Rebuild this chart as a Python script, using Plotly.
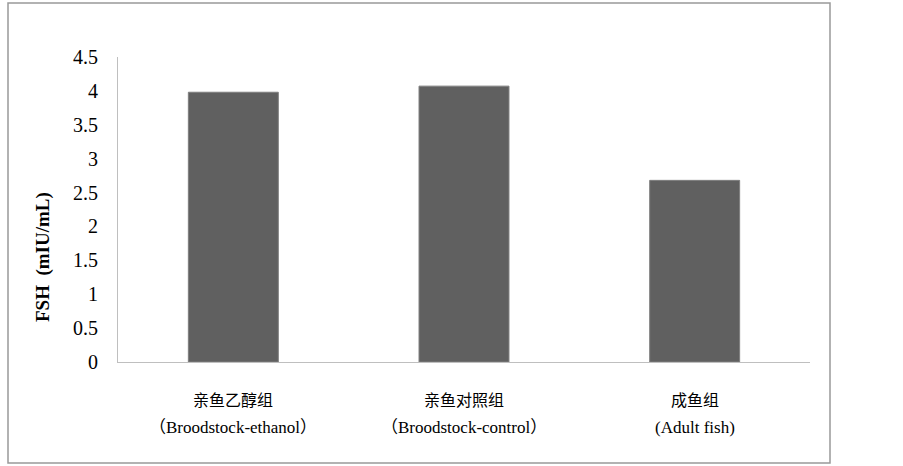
import plotly.graph_objects as go

categories = ["亲鱼乙醇组", "亲鱼对照组", "成鱼组"]
english_labels = ["（Broodstock-ethanol）", "（Broodstock-control）", "(Adult fish)"]
fsh_values = [3.98, 4.07, 2.68]
y_ticks = [0, 0.5, 1, 1.5, 2, 2.5, 3, 3.5, 4, 4.5]
y_ticktext = ["0", "0.5", "1", "1.5", "2", "2.5", "3", "3.5", "4", "4.5"]

W, H = 903, 466
L, R, T, B = 118, 810, 57, 362
pw, ph = R - L, B - T

def px(x):
    return (x - L) / pw

def py(y):
    return (B - y) / ph

FONT = "Liberation Serif, Times New Roman, Noto Sans CJK SC, serif"

fig = go.Figure(go.Bar(
    x=categories, y=fsh_values,
    marker=dict(color="#606060", line=dict(color="#7f7f7f", width=1)),
    width=0.39,
))

annotations = []
for c, e in zip(categories, english_labels):
    annotations.append(dict(x=c, xref="x", y=0, yref="paper", text=c, showarrow=False,
                            yanchor="middle", yshift=-38,
                            font=dict(family=FONT, size=16, color="#000")))
    annotations.append(dict(x=c, xref="x", y=0, yref="paper", text=e, showarrow=False,
                            yanchor="middle", yshift=-65,
                            font=dict(family=FONT, size=17, color="#000")))
annotations.append(dict(x=px(43), xref="paper", y=py(257), yref="paper",
                        text="<b>FSH  (mIU/mL)</b>", textangle=-90, showarrow=False,
                        xanchor="center", yanchor="middle",
                        font=dict(family=FONT, size=19, color="#000")))

fig.update_layout(
    width=W, height=H,
    margin=dict(l=L, r=W - R, t=T, b=H - B, pad=0),
    paper_bgcolor="white", plot_bgcolor="white",
    showlegend=False,
    annotations=annotations,
    xaxis=dict(showticklabels=False, showline=True, linecolor="#bfbfbf", linewidth=1,
               ticks="", showgrid=False, zeroline=False),
    yaxis=dict(range=[0, 4.5], tickvals=y_ticks, ticktext=y_ticktext,
               showline=True, linecolor="#bfbfbf", linewidth=1, ticks="",
               ticklabelstandoff=15, showgrid=False, zeroline=False,
               tickfont=dict(family=FONT, size=20, color="#000")),
    shapes=[dict(type="rect", xref="paper", yref="paper",
                 x0=px(8), x1=px(830), y0=py(463), y1=py(3),
                 line=dict(color="#999999", width=1.5), fillcolor="rgba(0,0,0,0)",
                 layer="below")],
)

fig.write_html("out.html", config={"displayModeBar": False},
               post_script="document.body.style.margin='0';document.body.style.overflow='hidden';")
